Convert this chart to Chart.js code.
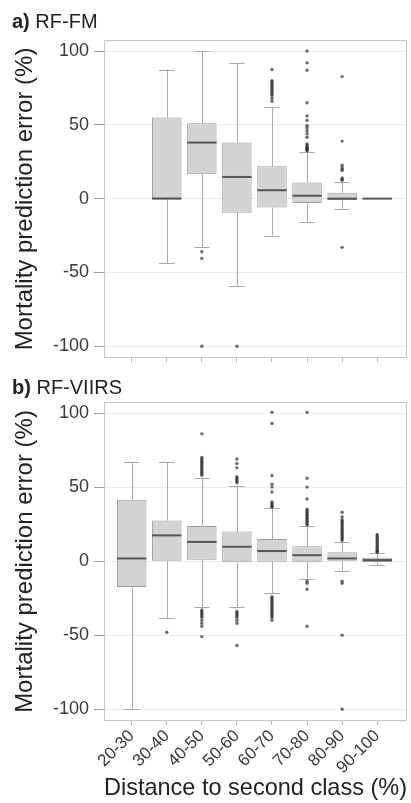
<!DOCTYPE html>
<html>
<head>
<meta charset="utf-8">
<script src="https://cdn.jsdelivr.net/npm/chart.js@4.4.1/dist/chart.umd.min.js"></script>
<style>
  body { margin: 0; background: #fff; font-family: "Liberation Sans", Arial, sans-serif; }
  #wrap { position: relative; width: 411px; height: 803px; }
  canvas { position: absolute; left: 0; }
  .panelTitle { position: absolute; left: 12px; font-size: 20px; line-height: 20px; color: #222; z-index: 2; }
</style>
</head>
<body>
<div id="wrap">
  <canvas id="fmChart" width="411" height="380" style="top:0"></canvas>
  <canvas id="viirsChart" width="411" height="423" style="top:380px"></canvas>
  <div class="panelTitle" style="top:11px"><b>a)</b> RF-FM</div>
  <div class="panelTitle" style="top:377px"><b>b)</b> RF-VIIRS</div>
</div>
<script>
const classes = ['20-30', '30-40', '40-50', '50-60', '60-70', '70-80', '80-90', '90-100'];
const yTicks = [-100, -50, 0, 50, 100];

// RF-FM box statistics (null = no data in that class)
const fmLow  = [null, -43.5, -33, -59.5, -25, -16, -7, 0];
const fmQ1   = [null, 0, 16.5, -9.5, -6, -3, -1, 0];
const fmMed  = [null, 0, 38, 14.7, 5.7, 2, 0, 0];
const fmQ3   = [null, 55, 51, 38, 22, 11, 4, 0.3];
const fmHigh = [null, 87.5, 100, 91.6, 62, 31.7, 11, 0];
const fmOut  = [
  [],
  [],
  [-36, -40.5, -100],
  [-100],
  [87.5, 80, 79, 78, 77, 76, 75, 74, 73, 72, 71, 70, 68, 66],
  [100, 92, 87, 65, 56, 53, 49.5, 48, 46, 44, 41.6, 37, 36, 35, 34.5, 34, 33.5, 33, 32.5],
  [82.7, 39, 22.6, 21, 20, 19, 14, 13, 12.4, -33],
  []
];

// RF-VIIRS box statistics
const viLow  = [-100, -38.5, -31, -31, -21.5, -12.4, -6.8, -2.3];
const viQ1   = [-17.4, 0, 1, -0.7, -0.5, -0.7, 0, -0.6];
const viMed  = [1.8, 17.4, 13, 9.7, 6.8, 4, 1.8, 0.7];
const viQ3   = [41.4, 27.4, 23.8, 20, 14.9, 10, 6, 2.2];
const viHigh = [66.7, 66.7, 56, 50.5, 36, 24, 13, 5.5];
const viOut  = [
  [],
  [-48],
  [86, 70, 69, 68, 67, 66, 65, 64, 63, 62, 61, 60, 59, 58,
   -33, -34, -35, -36, -37, -38, -40, -42, -44, -51],
  [69, 66, 63, 57, 56, 55, 54, 53, -34, -35, -36, -37, -38, -40, -42, -57],
  [100.5, 93, 57.8, 52, 50, 46.7, 40, 39, 38, 37, 36.6,
   -24, -25, -26, -27, -28, -29, -30, -31, -32, -33, -34, -35, -36, -37, -38, -40],
  [100.5, 56, 50, 42, 35, 34, 33, 32, 31, 30, 29, 28, 27, 26, 25, 24.5, -13.6, -15, -19, -44],
  [33, 30, 28, 27, 26, 25, 24, 23, 22, 21, 20, 19, 18, 17, 16, 15, 14, -13.6, -15, -50, -100],
  [18, 17, 16, 15, 14, 13, 12, 11, 10, 9, 8, 7, 6.5, 6]
];

// whiskers, caps and the chart frame go under the boxes, medians on top of them
const boxLines = {
  id: 'boxLines',
  beforeDatasetsDraw(chart, args, opts) {
    const { ctx, chartArea: a, scales: { x, y } } = chart;
    ctx.save();
    ctx.strokeStyle = '#c6c6c6';
    ctx.lineWidth = 1;
    ctx.strokeRect(a.left + 0.5, a.top + 0.5, a.right - a.left - 1, a.bottom - a.top - 1);
    ctx.strokeStyle = '#a8a8a8';
    opts.q1.forEach((q1, i) => {
      if (q1 === null) return;
      const px = Math.round(x.getPixelForValue(i + 1)) + 0.5;
      const cl = x.getPixelForValue(i + 1 - 0.22);
      const cr = x.getPixelForValue(i + 1 + 0.22);
      const line = (x0, y0, x1, y1) => {
        ctx.beginPath(); ctx.moveTo(x0, y0); ctx.lineTo(x1, y1); ctx.stroke();
      };
      const lo = opts.low[i], hi = opts.high[i];
      if (lo < q1) {
        line(px, y.getPixelForValue(lo), px, y.getPixelForValue(q1));
        const py = Math.round(y.getPixelForValue(lo)) + 0.5;
        line(cl, py, cr, py);
      }
      if (hi > opts.q3[i]) {
        line(px, y.getPixelForValue(hi), px, y.getPixelForValue(opts.q3[i]));
        const py = Math.round(y.getPixelForValue(hi)) + 0.5;
        line(cl, py, cr, py);
      }
    });
    ctx.restore();
  },
  afterDatasetDraw(chart, args, opts) {
    if (args.index !== 0) return;
    const { ctx, scales: { x, y } } = chart;
    ctx.save();
    ctx.strokeStyle = '#555';
    ctx.lineWidth = 2;
    opts.med.forEach((m, i) => {
      if (m === null) return;
      const py = y.getPixelForValue(m);
      ctx.beginPath();
      ctx.moveTo(x.getPixelForValue(i + 1 - 0.42), py);
      ctx.lineTo(x.getPixelForValue(i + 1 + 0.42), py);
      ctx.stroke();
    });
    ctx.restore();
  }
};

function makePanel(id, low, q1, med, q3, high, out, showLabels, padTop, axisHeight) {
  const boxes = [];
  q1.forEach((v, i) => { if (v !== null) boxes.push({ x: i + 1, y: [v, q3[i]] }); });
  const points = [];
  out.forEach((vals, i) => vals.forEach(v => points.push({ x: i + 1, y: v })));

  return new Chart(document.getElementById(id), {
    type: 'bar',
    data: {
      datasets: [
        {
          data: boxes,
          backgroundColor: '#d3d3d3',
          borderColor: '#9e9e9e',
          borderWidth: 1,
          borderSkipped: false,
          barPercentage: 0.84,
          categoryPercentage: 1
        },
        {
          type: 'scatter',
          data: points,
          pointRadius: 1.7,
          pointBackgroundColor: 'rgba(45, 45, 45, 0.7)',
          pointBorderWidth: 0
        }
      ]
    },
    plugins: [boxLines],
    options: {
      responsive: false,
      animation: false,
      layout: { padding: { top: padTop, right: 1, left: 0, bottom: 0 } },
      plugins: {
        legend: { display: false },
        tooltip: { enabled: false },
        boxLines: { low, q1, med, q3, high }
      },
      scales: {
        x: {
          type: 'linear',
          min: 0.21,
          max: 8.85,
          offset: false,
          afterBuildTicks: s => { s.ticks = classes.map((c, i) => ({ value: i + 1 })); },
          afterFit: s => { s.height = axisHeight; },
          grid: { offset: false, drawOnChartArea: false, drawTicks: true, tickLength: 4, tickColor: '#b5b5b5' },
          border: { display: false },
          ticks: {
            display: showLabels,
            autoSkip: false,
            minRotation: 45,
            maxRotation: 45,
            padding: 1,
            color: '#3a3a3a',
            font: { family: 'Liberation Sans', size: 17 },
            callback: v => classes[v - 1]
          },
          title: {
            display: showLabels,
            text: 'Distance to second class (%)',
            color: '#222',
            font: { family: 'Liberation Sans', size: 24 },
            padding: { top: 0, bottom: 0 }
          }
        },
        y: {
          min: -108,
          max: 107.5,
          afterBuildTicks: s => { s.ticks = yTicks.map(v => ({ value: v })); },
          afterFit: s => { s.width = 104; },
          grid: { color: '#ececec', tickColor: '#a0a0a0', tickLength: 10 },
          border: { display: false },
          ticks: { padding: 5, color: '#3a3a3a', font: { family: 'Liberation Sans', size: 18 } },
          title: {
            display: true,
            text: 'Mortality prediction error (%)',
            color: '#222',
            font: { family: 'Liberation Sans', size: 24 },
            padding: { top: 11, bottom: 0 }
          }
        }
      }
    }
  });
}

makePanel('fmChart', fmLow, fmQ1, fmMed, fmQ3, fmHigh, fmOut, false, 40, 22);
makePanel('viirsChart', viLow, viQ1, viMed, viQ3, viHigh, viOut, true, 22, 82);
</script>
</body>
</html>
